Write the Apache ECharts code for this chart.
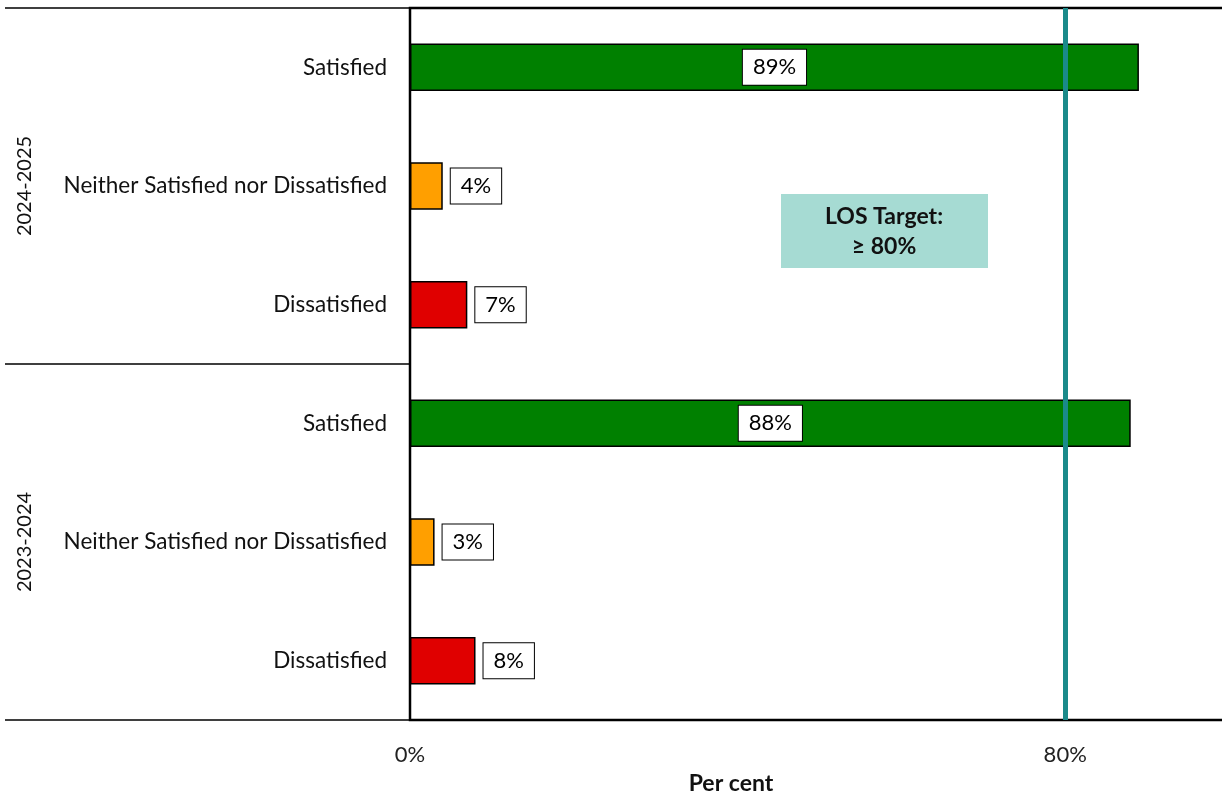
<!DOCTYPE html>
<html>
<head>
<meta charset="utf-8">
<script src="https://cdn.jsdelivr.net/npm/echarts@6/dist/echarts.min.js"></script>
<style>
  html, body { margin: 0; padding: 0; background: #fff; }
  #chart { width: 1222px; height: 799px; }
</style>
</head>
<body>
<div id="chart"></div>
<script>
// Survey responses, top to bottom: 2024-2025 then 2023-2024
const periods = ['2024-2025', '2023-2024'];
const responses = ['Satisfied', 'Neither Satisfied nor Dissatisfied', 'Dissatisfied'];
const values2024_2025 = [89, 4, 7];
const values2023_2024 = [88, 3, 8];
const xTicks = [0, 80];
const targetValue = 80;

const categories = [];
const values = [];
[values2024_2025, values2023_2024].forEach(function (vals) {
  responses.forEach(function (r, i) {
    categories.push(r);
    values.push(vals[i]);
  });
});

const colourFor = {
  'Satisfied': '#008000',
  'Neither Satisfied nor Dissatisfied': '#FF9F00',
  'Dissatisfied': '#E00000'
};

const FONT = 'Lato, "Open Sans", sans-serif';

const labelBox = {
  show: true,
  formatter: '{c}%',
  fontFamily: FONT,
  fontSize: 22,
  color: '#000',
  backgroundColor: '#fff',
  borderColor: '#000',
  borderWidth: 1,
  padding: [7, 10, 6, 10]
};

const barData = values.map(function (v, i) {
  const cat = categories[i];
  const big = cat === 'Satisfied';
  return {
    value: v,
    itemStyle: { color: colourFor[cat], borderColor: '#000', borderWidth: 1.5 },
    label: Object.assign({}, labelBox, big ? { position: 'inside' } : { position: 'right', distance: 8 })
  };
});

const chart = echarts.init(document.getElementById('chart'), null, { renderer: 'canvas' });

chart.setOption({
  animation: false,
  backgroundColor: '#fff',
  grid: {
    left: 410, top: 8, bottom: 79, right: -7,
    outerBoundsMode: 'none',
    containLabel: false,
    show: true, borderColor: '#000', borderWidth: 2.5, backgroundColor: 'transparent'
  },
  xAxis: {
    type: 'value',
    min: 0, max: 100, interval: 80,
    axisLine: { show: false },
    axisTick: { show: false },
    splitLine: { show: false },
    axisLabel: {
      margin: 24,
      fontFamily: FONT, fontSize: 22, color: '#222',
      formatter: function (v) { return xTicks.indexOf(v) >= 0 ? v + '%' : ''; }
    }
  },
  yAxis: [
    {
      type: 'category',
      data: categories,
      inverse: true,
      axisLine: { show: false },
      axisTick: { show: false },
      axisLabel: { margin: 23, fontFamily: FONT, fontSize: 22.5, color: '#111' }
    },
    {
      type: 'category',
      data: periods,
      inverse: true,
      position: 'left',
      axisLine: { show: false },
      axisTick: { show: true, inside: false, length: 405, lineStyle: { color: '#000', width: 1.5 } },
      axisLabel: { rotate: 90, margin: 375, fontFamily: FONT, fontSize: 20, color: '#111' }
    }
  ],
  series: [{
    type: 'bar',
    yAxisIndex: 0,
    barWidth: '40%',
    data: barData,
    markLine: {
      silent: true,
      symbol: ['none', 'none'],
      label: { show: false },
      lineStyle: { color: '#1A8A8A', width: 5, type: 'solid' },
      data: [{ xAxis: targetValue }]
    }
  }],
  graphic: [
    {
      type: 'rect',
      left: 781, top: 194,
      shape: { width: 207, height: 74 },
      style: { fill: '#A6DBD3' },
      z: 100
    },
    {
      type: 'text',
      x: 884, y: 232,
      style: {
        text: 'LOS Target:\n≥ ' + targetValue + '%',
        fontFamily: FONT, fontSize: 23, fontWeight: 'bold', fill: '#111',
        align: 'center', verticalAlign: 'middle', lineHeight: 30
      },
      z: 101
    },
    {
      type: 'text',
      x: 731, y: 784,
      style: {
        text: 'Per cent',
        fontFamily: FONT, fontSize: 23, fontWeight: 'bold', fill: '#111',
        align: 'center', verticalAlign: 'middle'
      }
    }
  ]
});
</script>
</body>
</html>
